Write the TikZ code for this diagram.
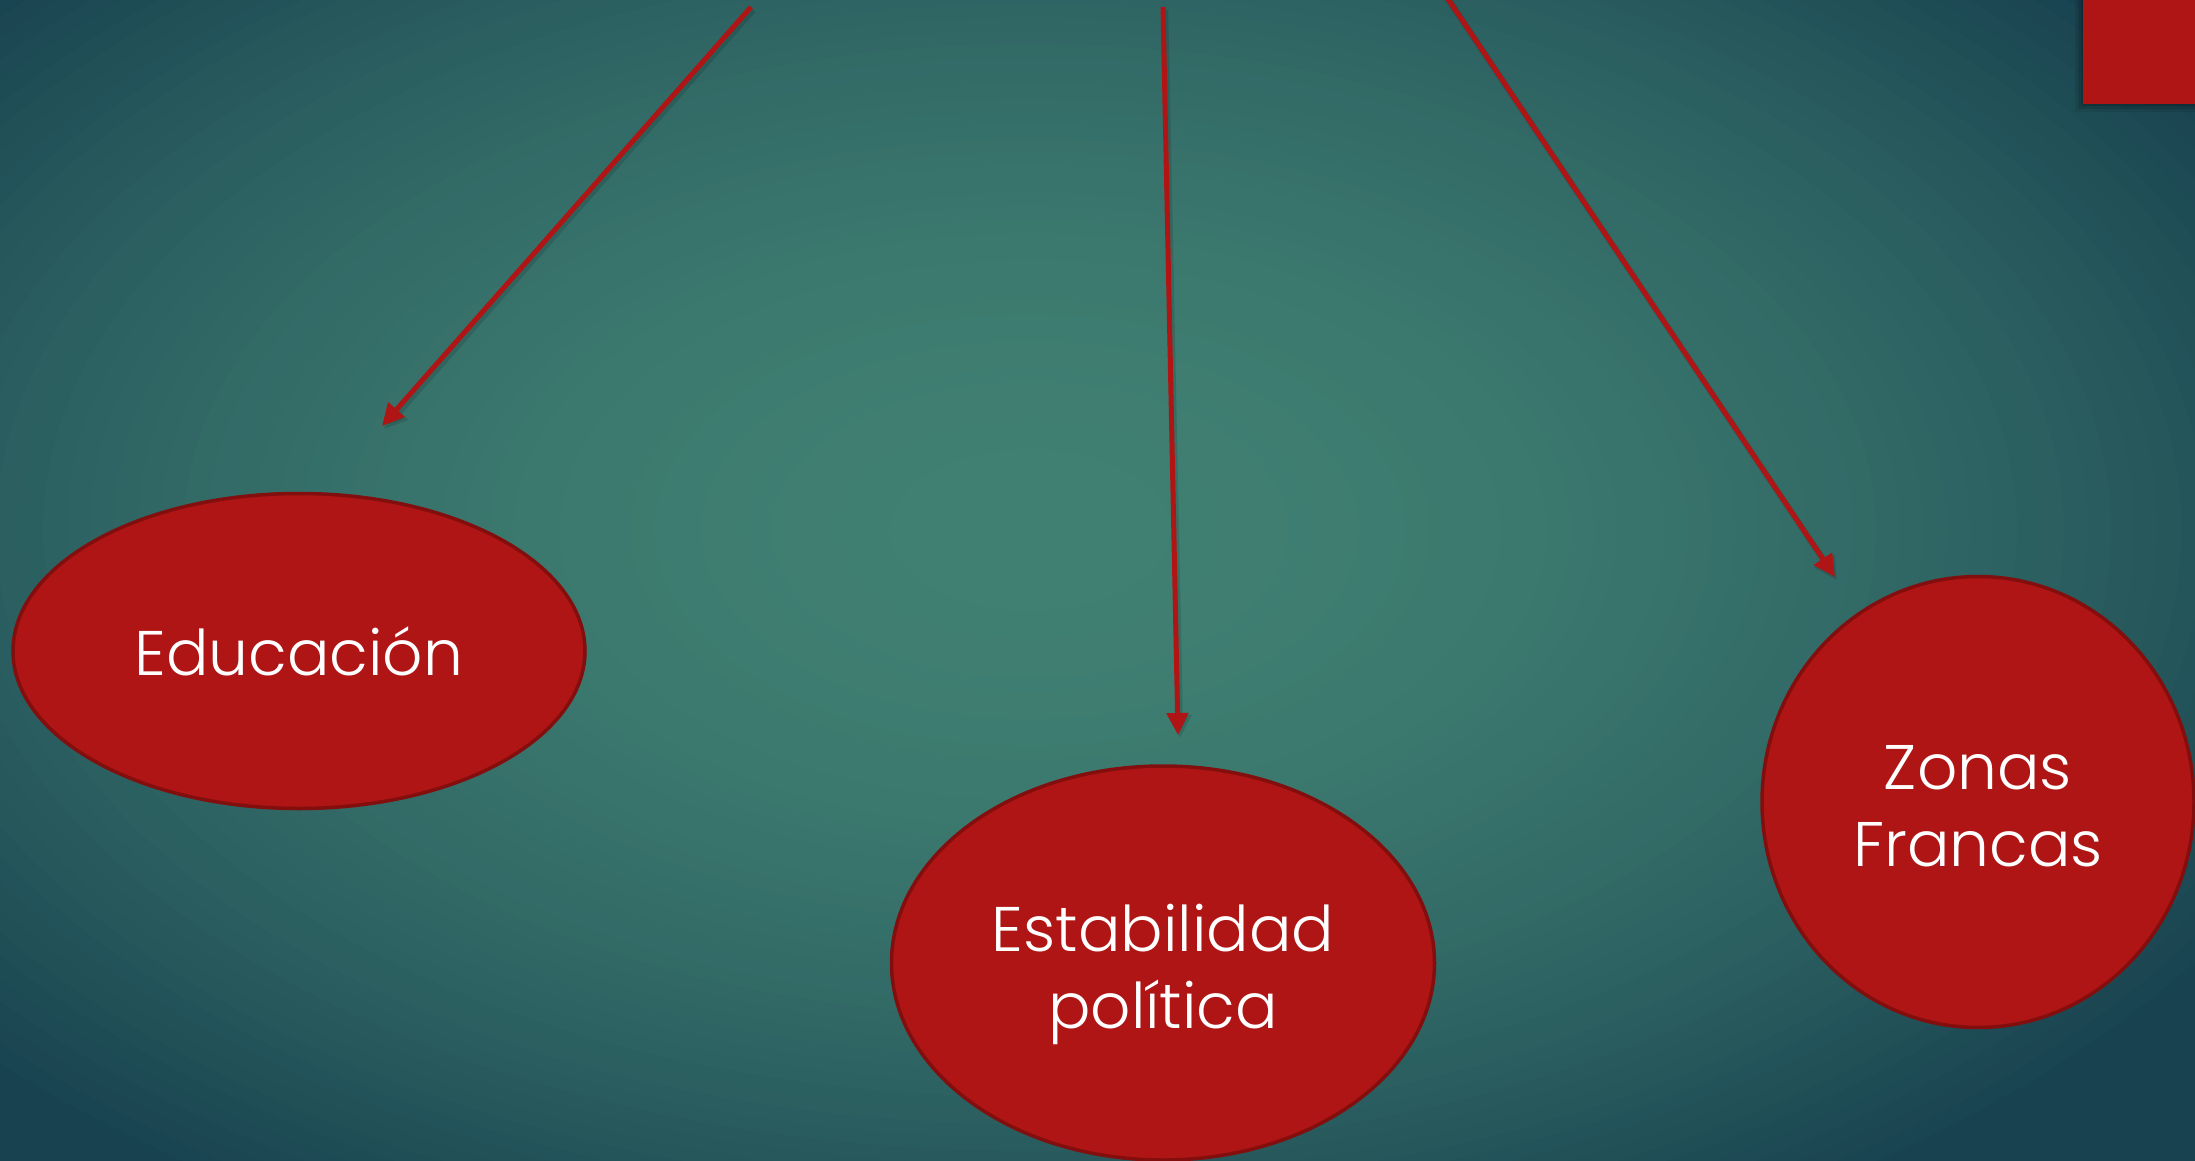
\documentclass[tikz,border=0pt]{standalone}
\usepackage{fontspec}
\setmainfont{Poppins}[UprightFont=* Light]
\usetikzlibrary{shapes.geometric,arrows.meta}
\definecolor{boxred}{RGB}{176,21,21}
\definecolor{edgered}{RGB}{130,14,14}
\definecolor{bgin}{RGB}{64,128,114}
\definecolor{bgout}{RGB}{24,66,80}
\tikzset{
  bubble/.style={ellipse, fill=boxred, draw=edgered, line width=3.5pt, inner sep=0pt},
  bubtext/.style={text=white, align=center, inner sep=0pt, font=\fontsize{63}{77}\selectfont},
  redarrow/.style={draw=boxred, line width=5pt, -{Triangle[length=22pt,width=21pt]}},
  shadowarrow/.style={draw=black, opacity=0.12, line width=6.5pt, -{Triangle[length=23pt,width=23pt]}}
}
\begin{document}
\begin{tikzpicture}[x=1pt,y=-1pt]
\useasboundingbox (0,0) rectangle (2195,1161);
\clip (0,0) rectangle (2195,1161);
\fill[bgout] (0,0) rectangle (2195,1161);
\foreach \i in {60,59,...,1}{
  \pgfmathsetmacro\p{100*(1-(\i/60)^2)}
  \fill[bgin!\p!bgout] (1030,530) ellipse [x radius=\i*23.5, y radius=\i*13.5];
}
% top-right square with soft shadow
\fill[black,opacity=0.08] (2075,0) rectangle (2195,112);
\fill[black,opacity=0.12] (2078,0) rectangle (2195,109);
\fill[black,opacity=0.15] (2081,0) rectangle (2195,106);
\fill[boxred] (2083,0) node (sq) {} rectangle (2195,104);
% nodes
\node[bubble, minimum width=572pt, minimum height=315pt] (edu) at (299,651) {};
\node[bubble, minimum width=543pt, minimum height=394pt] (est) at (1163,963) {};
\node[bubble, minimum width=432pt, minimum height=451pt] (zon) at (1978,802) {};
\node[bubtext] (edut) at (edu.center) {Educación};
\node[bubtext] (estt) at ([yshift=-11pt]est.center) {Estabilidad\\política};
\node[bubtext] (zont) at ([yshift=-4pt]zon.center) {Zonas\\Francas};
% arrow coordinates
\coordinate (a1s) at (751,7);
\coordinate (a1e) at (382,426);
\coordinate (a2s) at (1163,7);
\coordinate (a2e) at (1178,735);
\coordinate (a3s) at (1442,-10);
\coordinate (a3e) at (1835,577);
% shadows
\draw[shadowarrow] ([shift={(2,3)}]a1s) -- ([shift={(2,3)}]a1e);
\draw[shadowarrow] ([shift={(2,3)}]a2s) -- ([shift={(2,3)}]a2e);
\draw[shadowarrow] ([shift={(2,3)}]a3s) -- ([shift={(2,3)}]a3e);
% arrows
\draw[redarrow] (a1s) -- (a1e);
\draw[redarrow] (a2s) -- (a2e);
\draw[redarrow] (a3s) -- (a3e);
\end{tikzpicture}
\end{document}
